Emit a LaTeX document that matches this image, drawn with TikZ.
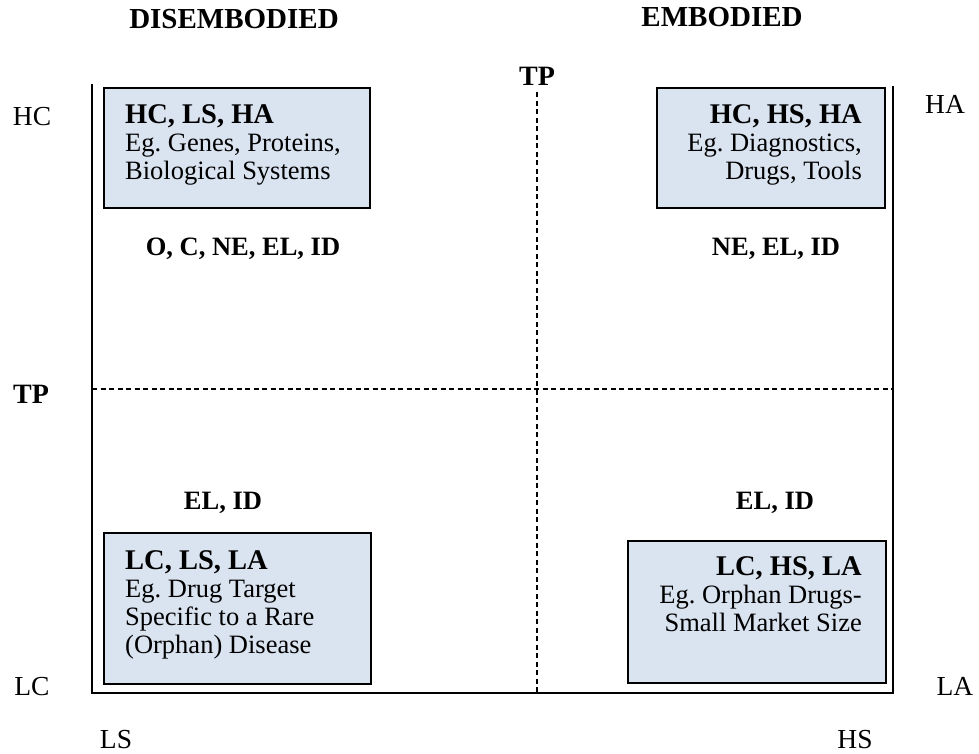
\documentclass[tikz,border=0pt]{standalone}
\usepackage{fontspec}
\setmainfont{Liberation Serif}
\frenchspacing
\definecolor{boxfill}{HTML}{DAE3F0}
\tikzset{
  frameline/.style={line width=2pt, line cap=rect},
  dashline/.style={line width=1.3pt, dash pattern=on 5pt off 3.5pt},
  qbox/.style={draw, line width=1.5pt, fill=boxfill, inner sep=0pt},
  boxtext/.style={inner sep=0pt, font=\fontsize{26.5}{28}\selectfont},
  corner/.style={inner sep=0pt, anchor=base, font=\fontsize{27.5}{30}\selectfont},
  blabel/.style={inner sep=0pt, anchor=base, font=\fontsize{26.5}{30}\selectfont\bfseries},
  head/.style={inner sep=0pt, anchor=base, font=\fontsize{29}{30}\selectfont\bfseries},
}
\newcommand{\boxhead}[1]{{\fontsize{28.5}{28}\selectfont\bfseries #1}}
\begin{document}
\begin{tikzpicture}[x=1pt,y=-1pt]
\useasboundingbox (0,0) rectangle (979,753);

% frame and quadrant lines
\coordinate (ftl) at (92,85);
\coordinate (fbl) at (92,693);
\coordinate (fbr) at (893,693);
\coordinate (ftr) at (893,87);
\coordinate (vt) at (537,92);
\coordinate (vb) at (537,693);
\coordinate (hl) at (92,389);
\coordinate (hr) at (893,389);
\draw[dashline] (vt) -- (vb);
\draw[dashline] (hl) -- (hr);
\draw[frameline] (ftl) -- (fbl) -- (fbr) -- (ftr);

% boxes
\node[qbox, anchor=north west, minimum width=266pt, minimum height=120pt] (tlbox) at (103,87) {};
\node[qbox, anchor=north west, minimum width=228pt, minimum height=120pt] (trbox) at (656,87) {};
\node[qbox, anchor=north west, minimum width=267pt, minimum height=151pt] (blbox) at (103,532) {};
\node[qbox, anchor=north west, minimum width=258pt, minimum height=142pt] (brbox) at (627,540) {};

\node[boxtext, anchor=north west, align=left] (tltext) at (125,104)
  {\boxhead{HC, LS, HA}\\Eg. Genes, Proteins,\\Biological Systems};
\node[boxtext, anchor=north east, align=right] (trtext) at (862,104)
  {\boxhead{HC, HS, HA}\\Eg. Diagnostics,\\Drugs, Tools};
\node[boxtext, anchor=north west, align=left] (bltext) at (125,550)
  {\boxhead{LC, LS, LA}\\Eg. Drug Target\\Specific to a Rare\\(Orphan) Disease};
\node[boxtext, anchor=north east, align=right] (brtext) at (862,556)
  {\boxhead{LC, HS, LA}\\Eg. Orphan Drugs-\\Small Market Size};

% headings
\node[head] (dis) at (234,28) {DISEMBODIED};
\node[head] (emb) at (722,26) {EMBODIED};
\node[head, font=\fontsize{28}{30}\selectfont\bfseries] (tptop) at (537,85) {TP};
\node[head, font=\fontsize{28}{30}\selectfont\bfseries] (tpleft) at (31,403) {TP};

% corner labels
\node[corner] (hc) at (32,125) {HC};
\node[corner] (ha) at (945,113) {HA};
\node[corner] (lc) at (32,695) {LC};
\node[corner] (la) at (955,695) {LA};
\node[corner] (ls) at (116,748) {LS};
\node[corner] (hs) at (855,748) {HS};

% quadrant labels
\node[blabel] (q1) at (243,255) {O, C, NE, EL, ID};
\node[blabel] (q2) at (776,255) {NE, EL, ID};
\node[blabel] (q3) at (223,509) {EL, ID};
\node[blabel] (q4) at (775,509) {EL, ID};
\end{tikzpicture}
\end{document}
